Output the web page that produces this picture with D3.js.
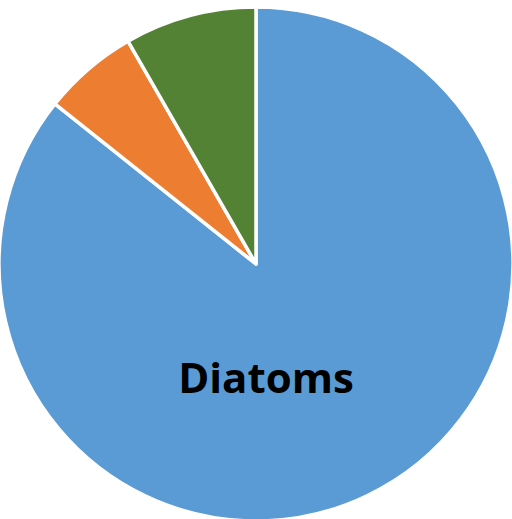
<!DOCTYPE html>
<html>
<head>
<meta charset="utf-8">
<script src="https://cdn.jsdelivr.net/npm/d3@7"></script>
<style>
  html, body { margin: 0; padding: 0; background: #fff; }
  svg { display: block; }
</style>
</head>
<body>
<svg id="chart" width="512" height="519"></svg>
<script>
// Phytoplankton composition (share of total, %)
const categories = ["Diatoms", "Other A", "Other B"];
const values = [85.7, 6.0, 8.3];
const colors = ["#5B9BD5", "#ED7D31", "#548235"];
const labelText = ["Diatoms", "", ""];

const width = 512, height = 519;
const cx = 256, cy = 264, radius = 257;

const svg = d3.select("#chart");
const g = svg.append("g").attr("transform", `translate(${cx},${cy})`);

const data = categories.map((c, i) => ({ name: c, value: values[i], color: colors[i], label: labelText[i] }));

const pie = d3.pie().sort(null).value(d => d.value);
const arc = d3.arc().innerRadius(0).outerRadius(radius);

const arcs = pie(data);

g.selectAll("path.slice")
  .data(arcs)
  .join("path")
  .attr("class", "slice")
  .attr("d", arc)
  .attr("fill", d => d.data.color)
  .attr("stroke", "#fff")
  .attr("stroke-width", 3.5)
  .attr("stroke-linejoin", "round");

// Label sits inside the large slice, below the centre
g.selectAll("text.lbl")
  .data(arcs.filter(d => d.data.label))
  .join("text")
  .attr("class", "lbl")
  .attr("x", 10)
  .attr("y", 129)
  .attr("text-anchor", "middle")
  .attr("font-family", "'Open Sans', sans-serif")
  .attr("font-weight", "bold")
  .attr("font-size", 42)
  .attr("fill", "#000")
  .text(d => d.data.label);
</script>
</body>
</html>
